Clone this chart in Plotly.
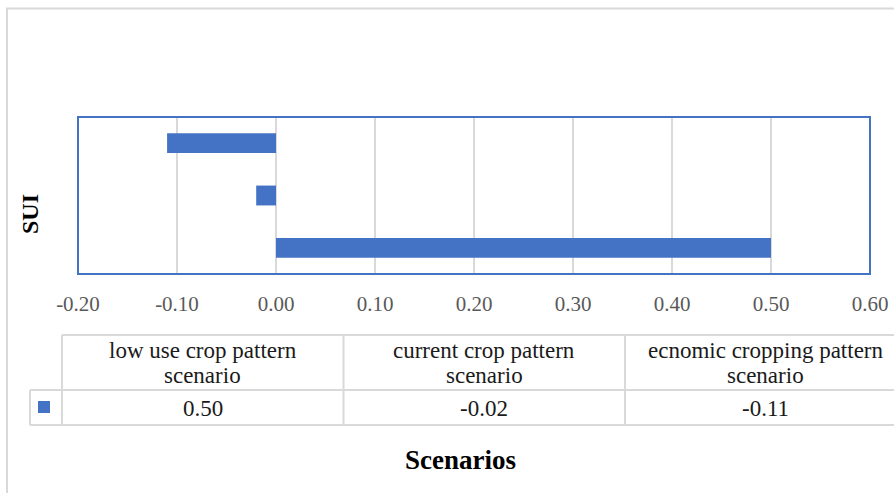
import plotly.graph_objects as go

# Scenario data
scenarios = [
    "low use crop pattern scenario",
    "current crop pattern scenario",
    "ecnomic cropping pattern scenario",
]
sui_values = [0.50, -0.02, -0.11]
value_labels = ["0.50", "-0.02", "-0.11"]
x_ticks = [-0.20, -0.10, 0.00, 0.10, 0.20, 0.30, 0.40, 0.50, 0.60]

W, H = 894, 493
PL, PR, PT, PB = 78, 870, 117, 274  # plot area in pixels
BLUE = "#4472C4"
GRID = "#d9d9d9"
SERIF = "Liberation Serif, Times New Roman, serif"


def px(x):
    return (x - PL) / (PR - PL)


def py(y):
    return (PB - y) / (PB - PT)


fig = go.Figure()
fig.add_trace(
    go.Bar(
        x=sui_values,
        y=scenarios,
        orientation="h",
        width=0.38,
        marker=dict(color=BLUE, line=dict(width=0)),
        hoverinfo="x+y",
    )
)

shapes = []
annotations = []

# plot-area border
shapes.append(dict(type="rect", xref="paper", yref="paper", x0=0, x1=1, y0=0, y1=1,
                   line=dict(color=BLUE, width=2), layer="above"))

# outer chart frame (top and left edges)
shapes.append(dict(type="line", xref="paper", yref="paper", x0=px(6), x1=px(900),
                   y0=py(8.5), y1=py(8.5), line=dict(color=GRID, width=2)))
shapes.append(dict(type="line", xref="paper", yref="paper", x0=px(7), x1=px(7),
                   y0=py(8), y1=py(500), line=dict(color=GRID, width=2)))

# data table grid
col_w = 281.5
col_left = 62
tbl_top, tbl_mid, tbl_bot = 335, 390, 425
key_left = 30


def hline(y, x0, x1):
    shapes.append(dict(type="line", xref="paper", yref="paper", x0=px(x0), x1=px(x1),
                       y0=py(y), y1=py(y), line=dict(color=GRID, width=2)))


def vline(x, y0, y1):
    shapes.append(dict(type="line", xref="paper", yref="paper", x0=px(x), x1=px(x),
                       y0=py(y0), y1=py(y1), line=dict(color=GRID, width=2)))


hline(tbl_top, col_left, 900)
hline(tbl_mid, key_left, 900)
hline(tbl_bot, key_left, 900)
vline(key_left, tbl_mid, tbl_bot)
for i in range(len(scenarios) + 1):
    vline(col_left + i * col_w, tbl_top, tbl_bot)

# legend key in the table
shapes.append(dict(type="rect", xref="paper", yref="paper", x0=px(38), x1=px(50),
                   y0=py(413), y1=py(401), fillcolor=BLUE, line=dict(width=0)))

# table text
TABLE_FONT = dict(family=SERIF, size=23, color="#1a1a1a")
for i, (name, lab) in enumerate(zip(scenarios, value_labels)):
    cx = px(col_left + (i + 0.5) * col_w)
    first, last = name.rsplit(" ", 1)
    for line_txt, yy in ((first, 350), (last, 375)):
        annotations.append(dict(text=line_txt, x=cx, y=py(yy), xref="paper", yref="paper",
                                showarrow=False, xanchor="center", yanchor="middle",
                                font=TABLE_FONT))
    annotations.append(dict(text=lab, x=cx, y=py(408), xref="paper", yref="paper",
                            showarrow=False, xanchor="center", yanchor="middle",
                            font=TABLE_FONT))

# axis titles
annotations.append(dict(text="<b>SUI</b>", x=px(30), y=py(214), xref="paper", yref="paper",
                        showarrow=False, textangle=-90, xanchor="center", yanchor="middle",
                        font=dict(family=SERIF, size=24, color="black")))
annotations.append(dict(text="<b>Scenarios</b>", x=px(460), y=py(460), xref="paper", yref="paper",
                        showarrow=False, xanchor="center", yanchor="middle",
                        font=dict(family=SERIF, size=27, color="black")))

fig.update_layout(
    width=W,
    height=H,
    margin=dict(l=PL, r=W - PR, t=PT, b=H - PB, autoexpand=False),
    paper_bgcolor="white",
    plot_bgcolor="white",
    showlegend=False,
    shapes=shapes,
    annotations=annotations,
)
fig.update_xaxes(
    range=[-0.2, 0.6],
    tickvals=x_ticks,
    ticktext=[f"{v:.2f}" for v in x_ticks],
    automargin=False,
    showgrid=True,
    gridcolor=GRID,
    gridwidth=2,
    zeroline=True,
    zerolinecolor=GRID,
    zerolinewidth=2,
    ticks="outside",
    ticklen=11,
    tickcolor="rgba(0,0,0,0)",
    tickfont=dict(family=SERIF, size=21, color="#595959"),
    showline=False,
)
fig.update_yaxes(
    categoryorder="array",
    categoryarray=scenarios,
    range=[-0.5, 2.5],
    automargin=False,
    showticklabels=False,
    showgrid=False,
    zeroline=False,
    showline=False,
)

fig.write_html("out.html")
